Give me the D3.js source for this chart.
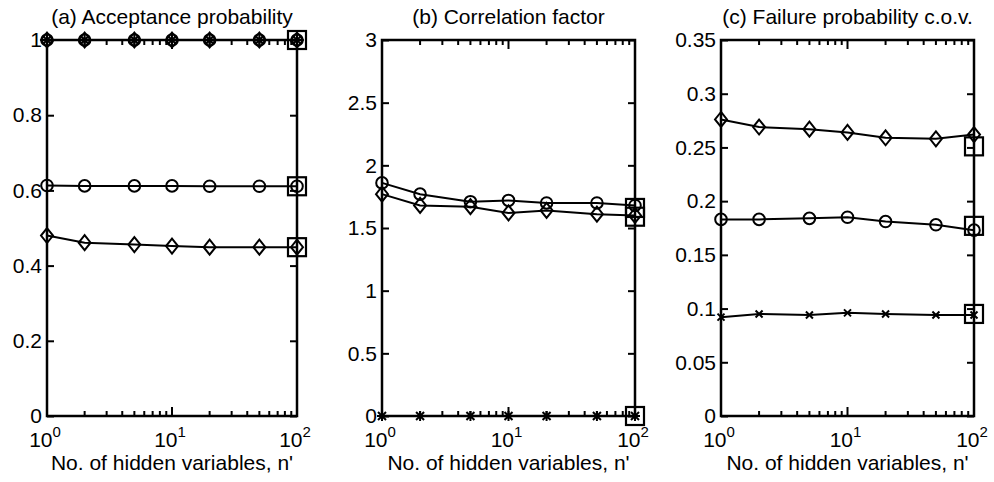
<!DOCTYPE html>
<html>
<head>
<meta charset="utf-8">
<script src="https://cdn.jsdelivr.net/npm/d3@7"></script>
<style>
  body { margin: 0; background: #fff; }
  svg text { font-family: "Liberation Sans", Arial, sans-serif; fill: #000; }
</style>
</head>
<body>
<div id="chart"></div>
<script>
// n' values shared by all three panels
const nValues = [1, 2, 5, 10, 20, 50, 100];

// (a) Acceptance probability
const accTitle = "(a) Acceptance probability";
const accTicks = [0, 0.2, 0.4, 0.6, 0.8, 1];
const accStar = [1, 1, 1, 1, 1, 1, 1];
const accCircleTop = [1, 1, 1, 1, 1, 1, 1];
const accDiamondTop = [1, 1, 1, 1, 1, 1, 1];
const accCircle = [0.613, 0.612, 0.612, 0.612, 0.611, 0.611, 0.611];
const accDiamond = [0.480, 0.461, 0.456, 0.452, 0.449, 0.449, 0.449];
const accBoxes = [1, 0.611, 0.449];

// (b) Correlation factor
const corrTitle = "(b) Correlation factor";
const corrTicks = [0, 0.5, 1, 1.5, 2, 2.5, 3];
const corrStar = [0, 0, 0, 0, 0, 0, 0];
const corrCircle = [1.86, 1.77, 1.71, 1.72, 1.70, 1.70, 1.68];
const corrDiamond = [1.77, 1.68, 1.67, 1.62, 1.64, 1.61, 1.60];
const corrBoxes = [1.66, 1.59, 0];

// (c) Failure probability c.o.v.
const covTitle = "(c) Failure probability c.o.v.";
const covTicks = [0, 0.05, 0.1, 0.15, 0.2, 0.25, 0.3, 0.35];
const covCross = [0.092, 0.095, 0.094, 0.096, 0.095, 0.094, 0.094];
const covCircle = [0.183, 0.183, 0.184, 0.185, 0.181, 0.178, 0.173];
const covDiamond = [0.276, 0.269, 0.267, 0.264, 0.259, 0.258, 0.262];
const covBoxes = [0.251, 0.177, 0.095];

const xLabel = "No. of hidden variables, n'";
const xMajor = [1, 10, 100];
const xMinor = [2, 3, 4, 5, 6, 7, 8, 9, 20, 30, 40, 50, 60, 70, 80, 90];

const W = 994, H = 482;
const plotTop = 40, plotBottom = 416;

const svg = d3.select("#chart").append("svg")
    .attr("width", W)
    .attr("height", H);

const panels = [
    { x0: 47, x1: 297, title: accTitle, ymax: 1, ticks: accTicks, fmt: d => String(d),
      series: [
          { v: accStar, m: "star" }, { v: accCircleTop, m: "circle" }, { v: accDiamondTop, m: "diamond" },
          { v: accCircle, m: "circle" }, { v: accDiamond, m: "diamond" }
      ], boxes: accBoxes },
    { x0: 382, x1: 635, title: corrTitle, ymax: 3, ticks: corrTicks, fmt: d => String(d),
      series: [
          { v: corrStar, m: "star" }, { v: corrCircle, m: "circle" }, { v: corrDiamond, m: "diamond" }
      ], boxes: corrBoxes },
    { x0: 721, x1: 974, title: covTitle, ymax: 0.35, ticks: covTicks, fmt: d => String(d),
      series: [
          { v: covCross, m: "cross" }, { v: covCircle, m: "circle" }, { v: covDiamond, m: "diamond" }
      ], boxes: covBoxes }
];

function drawMarker(g, kind, cx, cy) {
    if (kind === "circle") {
        g.append("circle").attr("cx", cx).attr("cy", cy).attr("r", 5.8)
            .attr("fill", "none").attr("stroke", "#000").attr("stroke-width", 2);
    } else if (kind === "diamond") {
        g.append("path")
            .attr("d", `M${cx},${cy - 7.5}L${cx + 6},${cy}L${cx},${cy + 7.5}L${cx - 6},${cy}Z`)
            .attr("fill", "none").attr("stroke", "#000").attr("stroke-width", 2);
    } else if (kind === "cross") {
        const s = 3.5;
        g.append("path")
            .attr("d", `M${cx - s},${cy - s}L${cx + s},${cy + s}M${cx - s},${cy + s}L${cx + s},${cy - s}`)
            .attr("stroke", "#000").attr("stroke-width", 2);
    } else if (kind === "star") {
        const s = 4, t = 5;
        g.append("path")
            .attr("d", `M${cx - s},${cy - s}L${cx + s},${cy + s}M${cx - s},${cy + s}L${cx + s},${cy - s}` +
                       `M${cx - t},${cy}L${cx + t},${cy}M${cx},${cy - t}L${cx},${cy + t}`)
            .attr("stroke", "#000").attr("stroke-width", 2);
    }
}

panels.forEach(p => {
    const x = d3.scaleLog().domain([1, 100]).range([p.x0, p.x1]);
    const y = d3.scaleLinear().domain([0, p.ymax]).range([plotBottom, plotTop]);
    const g = svg.append("g");

    // y ticks (inward, both sides) and labels
    g.append("g")
        .attr("transform", `translate(${p.x0},0)`)
        .call(d3.axisLeft(y).tickValues(p.ticks).tickSize(-7).tickPadding(5).tickFormat(p.fmt))
        .call(a => a.select(".domain").remove())
        .call(a => a.selectAll("line").attr("stroke", "#000").attr("stroke-width", 2))
        .call(a => a.selectAll("text").attr("font-size", 21).attr("font-family", "Liberation Sans, Arial, sans-serif"));
    g.append("g")
        .attr("transform", `translate(${p.x1},0)`)
        .call(d3.axisRight(y).tickValues(p.ticks).tickSize(-7).tickFormat(""))
        .call(a => a.select(".domain").remove())
        .call(a => a.selectAll("line").attr("stroke", "#000").attr("stroke-width", 2));

    // x ticks: minor and major, inward on bottom and top
    [[plotBottom, -1], [plotTop, 1]].forEach(([yy, dir]) => {
        g.selectAll(null).data(xMinor).join("line")
            .attr("x1", d => x(d)).attr("x2", d => x(d))
            .attr("y1", yy).attr("y2", yy + dir * 5)
            .attr("stroke", "#000").attr("stroke-width", 2);
        g.selectAll(null).data(xMajor).join("line")
            .attr("x1", d => x(d)).attr("x2", d => x(d))
            .attr("y1", yy).attr("y2", yy + dir * 9)
            .attr("stroke", "#000").attr("stroke-width", 2);
    });

    // x tick labels 10^k
    const lab = g.selectAll(null).data(xMajor).join("text")
        .attr("x", d => x(d) - 2).attr("y", 447)
        .attr("text-anchor", "middle")
        .attr("font-size", 21);
    lab.append("tspan").text("10");
    lab.append("tspan").attr("dy", -10).attr("font-size", 15).text(d => Math.round(Math.log10(d)));

    // data lines and markers
    const line = d3.line().x((d, i) => x(nValues[i])).y(d => y(d));
    p.series.forEach(s => {
        g.append("path").datum(s.v).attr("d", line)
            .attr("fill", "none").attr("stroke", "#000").attr("stroke-width", 2);
    });
    p.series.forEach(s => {
        s.v.forEach((v, i) => drawMarker(g, s.m, x(nValues[i]), y(v)));
    });

    // reference boxes at n' = 100
    g.selectAll(null).data(p.boxes).join("rect")
        .attr("x", x(100) - 9).attr("y", d => y(d) - 9)
        .attr("width", 18).attr("height", 18)
        .attr("fill", "none").attr("stroke", "#000").attr("stroke-width", 2.2);

    // axes frame
    g.append("rect")
        .attr("x", p.x0).attr("y", plotTop)
        .attr("width", p.x1 - p.x0).attr("height", plotBottom - plotTop)
        .attr("fill", "none").attr("stroke", "#000").attr("stroke-width", 2.5);

    // title and x label
    g.append("text")
        .attr("x", (p.x0 + p.x1) / 2).attr("y", 24)
        .attr("text-anchor", "middle").attr("font-size", 21)
        .text(p.title);
    g.append("text")
        .attr("x", (p.x0 + p.x1) / 2).attr("y", 470)
        .attr("text-anchor", "middle").attr("font-size", 21)
        .text(xLabel);
});
</script>
</body>
</html>
